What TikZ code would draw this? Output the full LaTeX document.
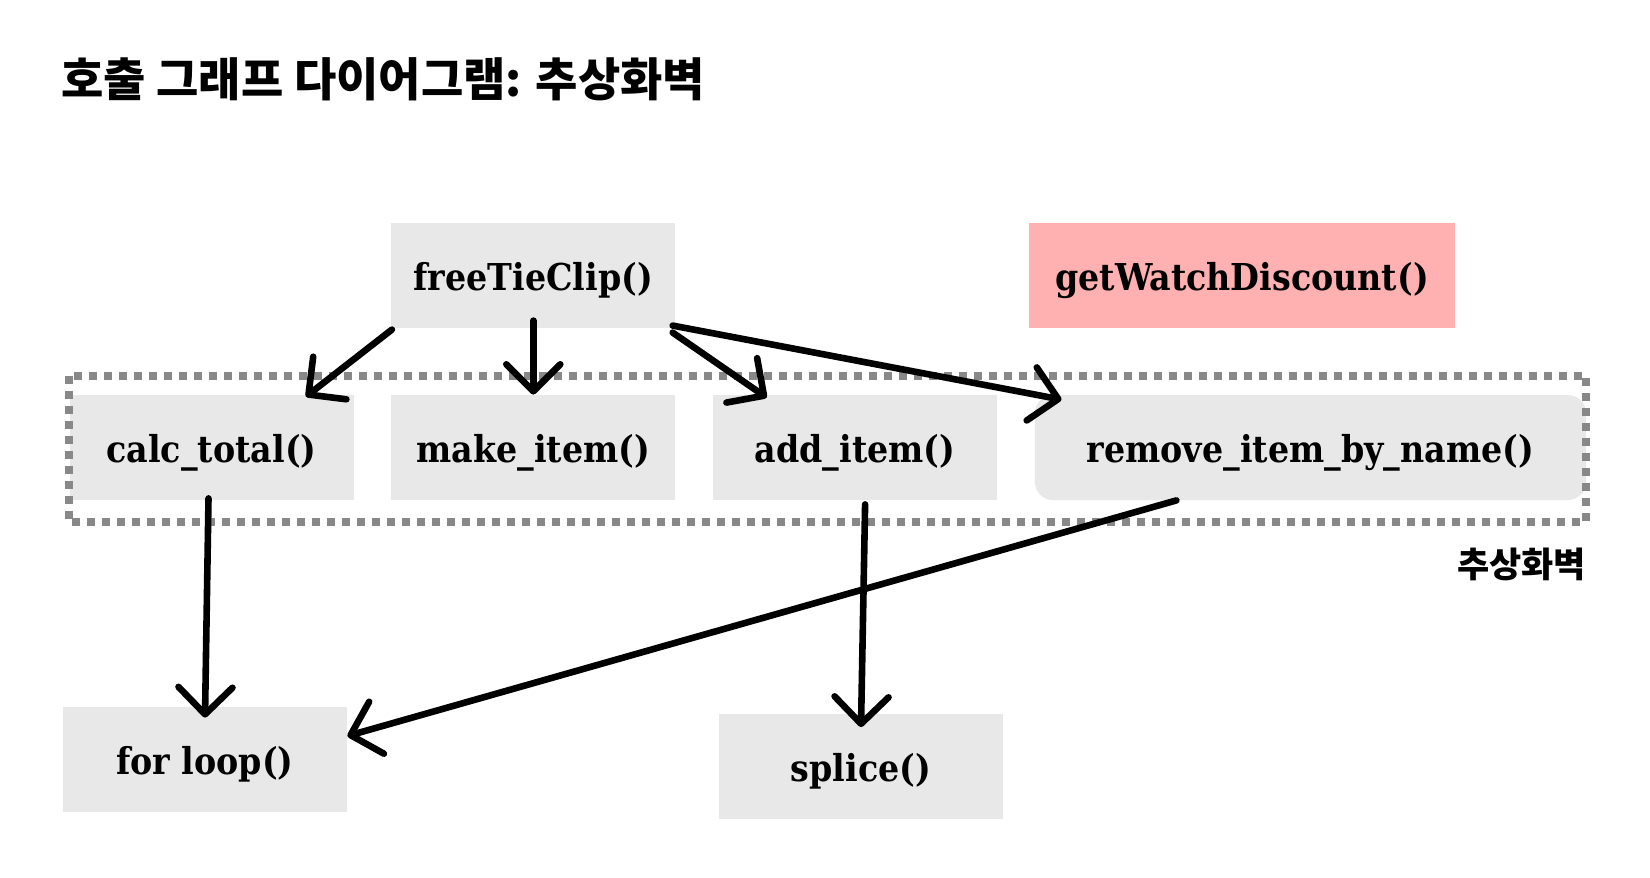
\documentclass[tikz,border=0pt]{standalone}
\usepackage{fontspec}
\usetikzlibrary{arrows.meta,positioning}
\setmainfont{DejaVu Serif Condensed}
\newfontfamily\krfont{Noto Sans CJK KR}
\definecolor{BoxGray}{HTML}{E8E8E8}
\definecolor{Pink}{HTML}{FFB0B0}
\definecolor{WallGray}{HTML}{888888}

\begin{document}
\begin{tikzpicture}[x=0.5pt,y=-0.5pt,
 fn/.style={fill=BoxGray,minimum width=142pt,minimum height=52.5pt,inner sep=0pt,text height=16.5pt,text depth=1.5pt,font=\fontsize{18.5}{22}\selectfont\bfseries},
 odd/.style={fn,fill=Pink,minimum width=213pt},
 wall/.style={draw=WallGray,line width=4pt,dash pattern=on 4pt off 3.5pt},
 call/.style={-{Straight Barb[length=13.5pt,width=27pt,round]},line width=3.3pt,line cap=round}]
 \useasboundingbox (0,0) rectangle (1650,878);
 \node[anchor=west,inner sep=0pt,font=\krfont\bfseries\fontsize{23}{28}\selectfont](title) at (61,79){호출 그래프 다이어그램: 추상화벽};
 \node[fn](calc) at (211.5,447.5){calc\_total()};
 \node[fn,right=18.5pt of calc](make){make\_item()};
 \node[fn,right=18.5pt of make](add){add\_item()};
 \node[fn,right=18.5pt of add,minimum width=275.5pt,rounded corners=9pt](remove){remove\_item\_by\_name()};
 \node[fn,above=33pt of make](free){freeTieClip()};
 \node[odd,right=176.5pt of free](watch){getWatchDiscount()};
 \node[fn](loop) at (205,759.5){for loop()};
 \node[fn](splice) at (861,766){splice()};
 % abstraction wall
 \draw[wall]([yshift=9.5pt]calc.north west) rectangle ([yshift=-11pt]remove.south east);
 \node[anchor=north east,inner sep=0pt,font=\krfont\bfseries\fontsize{17.5}{20}\selectfont](wallname) at ([yshift=-23.5pt]remove.south east){추상화벽};
 \draw[call]([xshift=0.5pt,yshift=-0.5pt]free.south west)--([xshift=-24pt,yshift=-1pt]calc.north east);
 \draw[call]([yshift=4pt]free.south)--(make.north);
 \draw[call]([xshift=-1.5pt,yshift=-2pt]free.south east)--([xshift=27pt,yshift=-1.5pt]add.north west);
 \draw[call]([xshift=-1.5pt,yshift=1.5pt]free.south east)--([xshift=13.5pt,yshift=-2.5pt]remove.north west);
 \draw[call]([xshift=-1.5pt,yshift=1pt]calc.south)--([yshift=-5.5pt]loop.north);
 \draw[call]([xshift=5pt,yshift=-2pt]add.south)--([yshift=-7pt]splice.north);
 \draw[call]([xshift=-67pt]remove.south)--([yshift=11.75pt]loop.east);
\end{tikzpicture}
\end{document}
